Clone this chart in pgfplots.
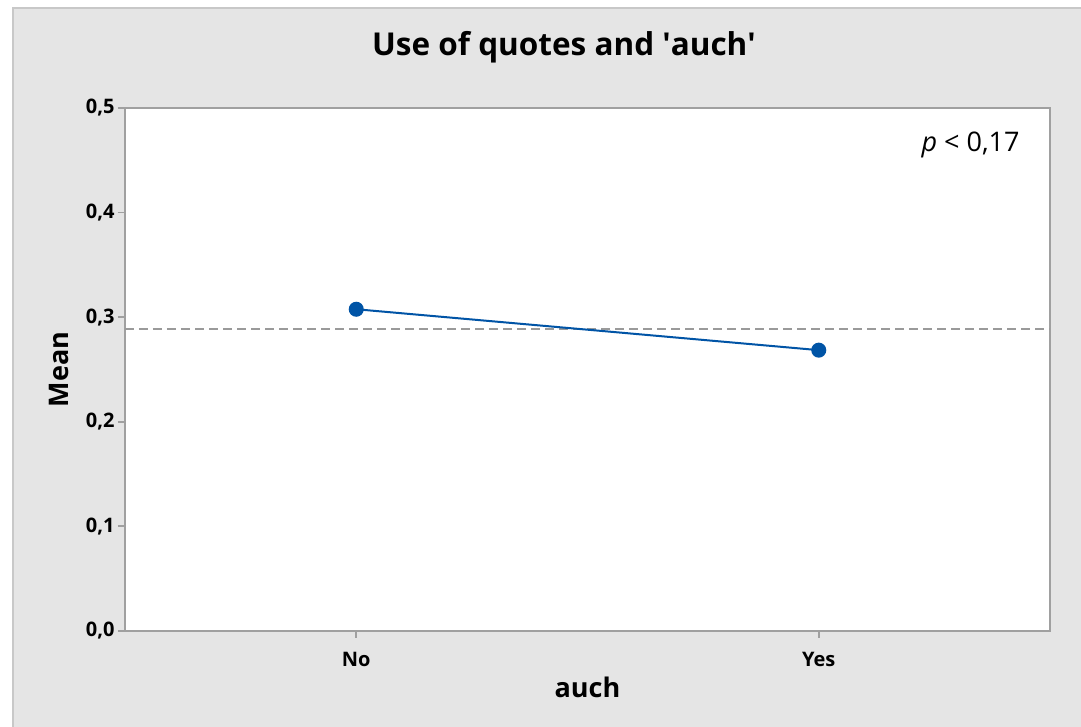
\documentclass[border=0pt]{standalone}
\usepackage{pgfplots}
\pgfplotsset{compat=1.18}
\usepackage{fontspec}
\setmainfont{Open Sans}
% semibold face for titles, labels and ticks (falls back to bold)
\IfFontExistsTF{Open Sans SemiBold}
  {\newfontfamily\semibold{Open Sans SemiBold}}
  {\newcommand\semibold{\bfseries}}

\definecolor{panelbg}{HTML}{E5E5E5}
\definecolor{panelrule}{HTML}{C8C8C8}
\definecolor{axisgray}{HTML}{A0A0A0}
\definecolor{meanblue}{RGB}{0,84,166}
\definecolor{refgray}{HTML}{9A9A9A}

\begin{document}
\begin{tikzpicture}
% page frame and grey panel behind the plot
\useasboundingbox (-62.5pt,-48pt) rectangle (478pt,315.5pt);
\fill[panelbg] (-56.5pt,-48pt) rectangle (478pt,312pt);
\draw[panelrule, line width=1pt] (-56pt,-48pt) -- (-56pt,311.5pt) -- (478pt,311.5pt);

\begin{axis}[
  at={(0,0)}, anchor=south west,
  scale only axis,
  width=462.5pt, height=261.5pt,
  axis background/.style={fill=white},
  axis line style={axisgray, line width=0.9pt},
  xmin=-0.5, xmax=1.5,
  ymin=0, ymax=0.5,
  xtick={0,1},
  xticklabels={No,Yes},
  ytick={0,0.1,0.2,0.3,0.4,0.5},
  tick align=outside,
  tick pos=left,
  major tick length=3.5pt,
  tick style={axisgray, line width=0.9pt},
  /pgf/number format/.cd, use comma, fixed, fixed zerofill, precision=1, assume math mode=true,
  /pgfplots/.cd,
  tick label style={font=\fontsize{10}{12}\selectfont\semibold},
  yticklabel style={anchor=east, inner sep=0pt, xshift=-1.5pt},
  xticklabel style={anchor=base, inner sep=0pt, yshift=-14.5pt},
  title={Use of quotes and \textquotesingle auch\textquotesingle},
  title style={font=\fontsize{15.75}{18}\selectfont\semibold,
               at={(axis description cs:0.4746,1.0765)}, anchor=base},
  xlabel={auch},
  xlabel style={font=\fontsize{13.5}{16}\selectfont\semibold,
                at={(axis description cs:0.5,-0.128)}, anchor=base},
  ylabel={Mean},
  ylabel style={font=\fontsize{13.5}{16}\selectfont\semibold,
                at={(axis description cs:-0.0717,0.5)}, anchor=center},
  clip=false,
]
% grand mean reference line
\addplot[refgray, line width=1pt, dash pattern=on 4.5pt off 2.5pt]
  coordinates {(-0.5,0.2885) (1.5,0.2885)};
% group means
\addplot[meanblue, line width=1pt, mark=*, mark size=3.25pt,
         mark options={fill=meanblue, draw=meanblue}]
  coordinates {(0,0.3076) (1,0.2685)};
\end{axis}

\node[anchor=base east, font=\fontsize{13.5}{16}\selectfont, inner sep=0pt]
  at (447.5pt,239.5pt) {\textit{p} < 0,17};
\end{tikzpicture}
\end{document}
